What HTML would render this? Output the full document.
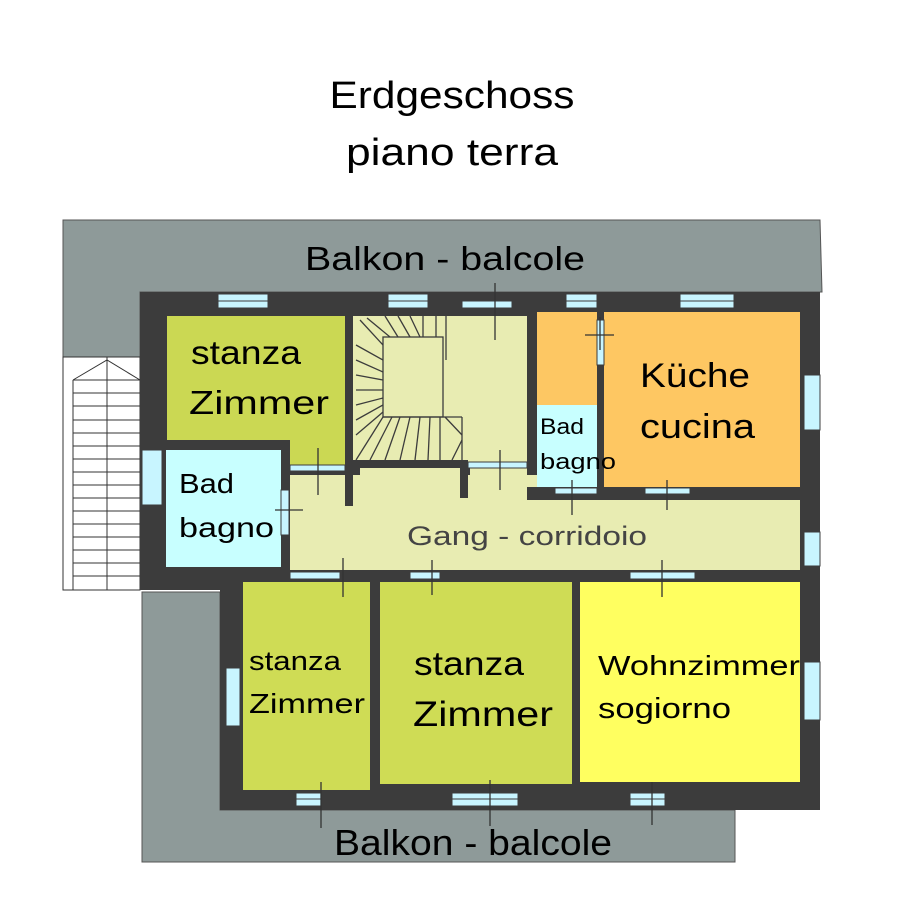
<!DOCTYPE html>
<html><head><meta charset="utf-8"><style>html,body{margin:0;padding:0;background:#fff}svg{display:block}</style></head>
<body>
<svg width="904" height="904" viewBox="0 0 904 904" xmlns="http://www.w3.org/2000/svg" font-family="Liberation Sans, sans-serif">
<rect width="904" height="904" fill="#fff"/>
<text x="452" y="108" font-size="38" text-anchor="middle" textLength="245" lengthAdjust="spacingAndGlyphs">Erdgeschoss</text>
<text x="452" y="165" font-size="38" text-anchor="middle" textLength="212" lengthAdjust="spacingAndGlyphs">piano terra</text>
<path d="M63 220 L820 220 L822 292 L140 292 L140 357 L63 357 Z" fill="#8e9a99" stroke="#555" stroke-width="1"/>
<path d="M142 592 L220 592 L220 810 L735 810 L735 862 L142 862 Z" fill="#8e9a99" stroke="#555" stroke-width="1"/>
<rect x="63" y="357" width="77" height="233" fill="#fff" stroke="#333" stroke-width="1"/>
<line x1="107" y1="357" x2="107" y2="590" stroke="#333"/>
<path d="M73 380 L107 360 L140 380" fill="none" stroke="#333"/>
<g stroke="#333" stroke-width="1">
<line x1="73" y1="380" x2="73" y2="590"/>
<line x1="73" y1="380" x2="140" y2="380"/><line x1="73" y1="393" x2="140" y2="393"/><line x1="73" y1="406" x2="140" y2="406"/><line x1="73" y1="420" x2="140" y2="420"/><line x1="73" y1="433" x2="140" y2="433"/><line x1="73" y1="446" x2="140" y2="446"/><line x1="73" y1="459" x2="140" y2="459"/><line x1="73" y1="472" x2="140" y2="472"/><line x1="73" y1="485" x2="140" y2="485"/><line x1="73" y1="498" x2="140" y2="498"/><line x1="73" y1="511" x2="140" y2="511"/><line x1="73" y1="524" x2="140" y2="524"/><line x1="73" y1="537" x2="140" y2="537"/><line x1="73" y1="550" x2="140" y2="550"/><line x1="73" y1="563" x2="140" y2="563"/><line x1="73" y1="576" x2="140" y2="576"/>
</g>
<rect x="140" y="292" width="680" height="298" fill="#3c3c3c"/>
<rect x="220" y="568" width="600" height="242" fill="#3c3c3c"/>
<rect x="353" y="316" width="174" height="150" fill="#e8ecb2"/>
<rect x="290" y="475" width="510" height="95" fill="#e8ecb2"/>
<rect x="360" y="466" width="100" height="10" fill="#e8ecb2"/>
<rect x="470" y="466" width="57" height="10" fill="#e8ecb2"/>
<rect x="167" y="316" width="178" height="124" fill="#cbd853"/>
<rect x="290" y="440" width="55" height="25" fill="#cbd853"/>
<rect x="166" y="450" width="115" height="117" fill="#c8ffff"/>
<g stroke="#3c3c3c" stroke-width="1.3" fill="none">
<rect x="383" y="337" width="60" height="80"/>
<line x1="360" y1="320" x2="383" y2="345"/><line x1="367" y1="318" x2="390" y2="337"/><line x1="385" y1="316" x2="398" y2="337"/><line x1="398" y1="316" x2="410" y2="337"/><line x1="410" y1="316" x2="420" y2="337"/><line x1="423" y1="316" x2="423" y2="337"/><line x1="436" y1="316" x2="436" y2="337"/><line x1="446" y1="316" x2="446" y2="360"/>
<line x1="356" y1="345" x2="383" y2="360"/><line x1="356" y1="360" x2="383" y2="372"/><line x1="356" y1="375" x2="383" y2="380"/><line x1="356" y1="390" x2="383" y2="390"/><line x1="356" y1="405" x2="383" y2="398"/><line x1="356" y1="420" x2="383" y2="405"/><line x1="356" y1="435" x2="383" y2="412"/><line x1="356" y1="460" x2="383" y2="417"/>
<line x1="383" y1="417" x2="462" y2="417"/><line x1="462" y1="417" x2="462" y2="460"/>
<line x1="370" y1="460" x2="392" y2="417"/><line x1="385" y1="460" x2="400" y2="417"/><line x1="400" y1="460" x2="410" y2="417"/><line x1="415" y1="460" x2="420" y2="417"/><line x1="428" y1="460" x2="430" y2="417"/><line x1="440" y1="460" x2="440" y2="417"/><line x1="452" y1="460" x2="462" y2="440"/><line x1="445" y1="417" x2="462" y2="435"/>
</g>
<rect x="345" y="316" width="8" height="190" fill="#3c3c3c"/>
<rect x="350" y="460" width="115" height="8" fill="#3c3c3c"/>
<rect x="460" y="460" width="8" height="38" fill="#3c3c3c"/>
<rect x="537" y="312" width="60" height="93" fill="#fdc763"/>
<rect x="537" y="405" width="60" height="83" fill="#c8ffff"/>
<rect x="604" y="312" width="196" height="175" fill="#fec762"/>
<rect x="597" y="316" width="7" height="175" fill="#3c3c3c"/>
<rect x="527" y="487" width="273" height="13" fill="#3c3c3c"/>
<rect x="243" y="582" width="127" height="208" fill="#cfdc55"/>
<rect x="380" y="582" width="192" height="202" fill="#cfdc55"/>
<rect x="580" y="582" width="220" height="200" fill="#ffff60"/>
<g fill="#c8f5ff" stroke="#3c3c3c" stroke-width="1">
<rect x="218" y="294" width="50" height="14"/><rect x="388" y="294" width="40" height="14"/><rect x="462" y="301" width="50" height="7"/><rect x="566" y="294" width="31" height="14"/><rect x="680" y="294" width="54" height="14"/>
<rect x="804" y="375" width="16" height="55"/><rect x="804" y="532" width="16" height="34"/><rect x="804" y="662" width="16" height="58"/>
<rect x="142" y="450" width="20" height="55"/><rect x="226" y="668" width="14" height="58"/>
<rect x="296" y="793" width="26" height="13"/><rect x="452" y="793" width="66" height="13"/><rect x="630" y="793" width="35" height="13"/>
<rect x="281" y="490" width="8" height="45"/><rect x="597" y="320" width="7" height="45"/>
<rect x="290" y="465" width="55" height="6"/><rect x="468" y="462" width="59" height="6"/><rect x="555" y="488" width="42" height="6"/><rect x="645" y="488" width="45" height="6"/>
<rect x="290" y="572" width="50" height="7"/><rect x="410" y="572" width="30" height="7"/><rect x="630" y="572" width="65" height="7"/>
</g>
<g stroke="#3c3c3c" stroke-width="1">
<line x1="218" y1="301" x2="268" y2="301"/><line x1="388" y1="301" x2="428" y2="301"/><line x1="566" y1="301" x2="597" y2="301"/><line x1="680" y1="301" x2="734" y2="301"/>
<line x1="296" y1="799" x2="322" y2="799"/><line x1="452" y1="799" x2="518" y2="799"/><line x1="630" y1="799" x2="665" y2="799"/>
</g>
<g stroke="#333" stroke-width="1.3">
<line x1="495" y1="283" x2="495" y2="340"/><line x1="318" y1="448" x2="318" y2="495"/><line x1="275" y1="510" x2="303" y2="510"/>
<line x1="500" y1="450" x2="500" y2="490"/><line x1="600" y1="317" x2="600" y2="350"/><line x1="585" y1="335" x2="614" y2="335"/>
<line x1="572" y1="480" x2="572" y2="515"/><line x1="667" y1="480" x2="667" y2="510"/>
<line x1="343" y1="558" x2="343" y2="597"/><line x1="432" y1="560" x2="432" y2="595"/><line x1="662" y1="560" x2="662" y2="597"/>
<line x1="321" y1="782" x2="321" y2="828"/><line x1="490" y1="780" x2="490" y2="826"/><line x1="652" y1="782" x2="652" y2="825"/>
</g>
<text x="445" y="270" font-size="33" text-anchor="middle" textLength="280" lengthAdjust="spacingAndGlyphs">Balkon - balcole</text>
<text x="473" y="855" font-size="36" text-anchor="middle" textLength="278" lengthAdjust="spacingAndGlyphs">Balkon - balcole</text>
<text x="191" y="364" font-size="33" textLength="110" lengthAdjust="spacingAndGlyphs">stanza</text>
<text x="189" y="414" font-size="33" textLength="140" lengthAdjust="spacingAndGlyphs">Zimmer</text>
<text x="179" y="493" font-size="28" textLength="55" lengthAdjust="spacingAndGlyphs">Bad</text>
<text x="179" y="537" font-size="28" textLength="95" lengthAdjust="spacingAndGlyphs">bagno</text>
<text x="640" y="387" font-size="34" textLength="110" lengthAdjust="spacingAndGlyphs">Küche</text>
<text x="640" y="438" font-size="34" textLength="115" lengthAdjust="spacingAndGlyphs">cucina</text>
<text x="540" y="434" font-size="22" textLength="44" lengthAdjust="spacingAndGlyphs">Bad</text>
<text x="540" y="469" font-size="22" textLength="76" lengthAdjust="spacingAndGlyphs">bagno</text>
<text x="407" y="545" font-size="27" fill="#444" textLength="240" lengthAdjust="spacingAndGlyphs">Gang - corridoio</text>
<text x="249" y="670" font-size="27" textLength="92" lengthAdjust="spacingAndGlyphs">stanza</text>
<text x="249" y="713" font-size="28" textLength="116" lengthAdjust="spacingAndGlyphs">Zimmer</text>
<text x="414" y="675" font-size="33" textLength="110" lengthAdjust="spacingAndGlyphs">stanza</text>
<text x="413" y="726" font-size="35" textLength="140" lengthAdjust="spacingAndGlyphs">Zimmer</text>
<text x="598" y="675" font-size="28" textLength="202" lengthAdjust="spacingAndGlyphs">Wohnzimmer</text>
<text x="598" y="718" font-size="29" textLength="133" lengthAdjust="spacingAndGlyphs">sogiorno</text>
</svg>
</body></html>
